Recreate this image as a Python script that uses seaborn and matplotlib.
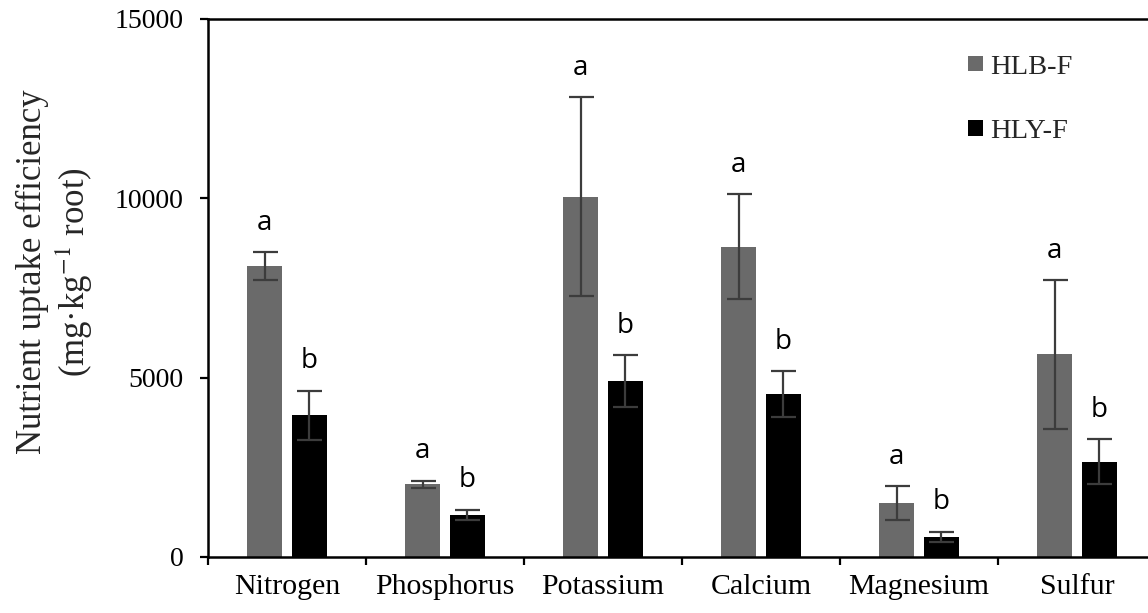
import matplotlib
matplotlib.use("Agg")
import matplotlib.pyplot as plt
import seaborn as sns
import pandas as pd
from matplotlib.ticker import FixedLocator

nutrients = ["Nitrogen", "Phosphorus", "Potassium", "Calcium", "Magnesium", "Sulfur"]
groups = ["HLB-F", "HLY-F"]
hlb = [8100, 2030, 10050, 8650, 1500, 5650]
hlb_err = [390, 100, 2770, 1470, 480, 2070]
hly = [3950, 1170, 4900, 4540, 570, 2660]
hly_err = [690, 150, 730, 640, 140, 630]
hlb_letters = ["a", "a", "a", "a", "a", "a"]
hly_letters = ["b", "b", "b", "b", "b", "b"]
yticks = [0, 5000, 10000, 15000]

sns.set_theme(style="white")
plt.rcParams["font.family"] = ["Liberation Serif", "DejaVu Serif"]
plt.rcParams["mathtext.fontset"] = "stix"

df = pd.DataFrame({
    "nutrient": nutrients * 2,
    "group": [groups[0]] * len(nutrients) + [groups[1]] * len(nutrients),
    "value": hlb + hly,
})

fig = plt.figure(figsize=(11.48, 6.13), dpi=100)
ax = fig.add_axes([208 / 1148, 1 - 557 / 613, 948 / 1148, (557 - 19) / 613])

sns.barplot(data=df, x="nutrient", y="value", hue="group", order=nutrients,
            hue_order=groups, palette=["#6a6a6a", "#000000"], saturation=1,
            width=0.56, gap=0.21, errorbar=None, ax=ax, linewidth=0)

errs = [hlb_err, hly_err]
vals = [hlb, hly]
letters = [hlb_letters, hly_letters]
bar_containers = list(ax.containers)
for k, cont in enumerate(bar_containers):
    xs = [p.get_x() + p.get_width() / 2 for p in cont.patches]
    ax.errorbar(xs, vals[k], yerr=errs[k], fmt="none", ecolor="#3c3c3c",
                elinewidth=1.6, capsize=9, capthick=1.6, zorder=3)
    for x, v, e, t in zip(xs, vals[k], errs[k], letters[k]):
        ax.annotate(t, xy=(x, v + e), xytext=(0, 16), textcoords="offset points",
                    ha="center", va="baseline", fontsize=20,
                    family=["Open Sans", "DejaVu Sans"], color="black")

ax.set_xlim(-0.5, 5.5)
ax.set_ylim(0, 15000)
ax.set_yticks(yticks)
ax.set_yticklabels([str(t) for t in yticks], fontsize=20)
ax.set_xticks(range(len(nutrients)))
ax.set_xticklabels(nutrients, fontsize=21.5)
ax.xaxis.set_minor_locator(FixedLocator([i - 0.5 for i in range(len(nutrients) + 1)]))
ax.tick_params(axis="x", which="major", length=0, pad=12, colors="black")
ax.tick_params(axis="x", which="minor", length=6, width=1.6, direction="out",
               bottom=True, color="black")
ax.tick_params(axis="y", which="major", length=6, width=1.6, direction="out",
               left=True, pad=11.5, colors="black")
ax.set_xlabel("")
ax.set_ylabel("Nutrient uptake efficiency\n(mg·kg$^{-1}$ root)", fontsize=25,
              linespacing=1.15)
ax.yaxis.set_label_coords((95 - 208) / 948, 0.53)

for s in ax.spines.values():
    s.set_visible(True)
    s.set_color("black")
    s.set_linewidth(1.8)

handles, labels = ax.get_legend_handles_labels()
ax.legend(handles, labels, loc="upper left", bbox_to_anchor=(0.79, 0.955),
          frameon=False, fontsize=20.5, handlelength=0.5, handleheight=0.45,
          handletextpad=0.25, labelspacing=1.39, borderaxespad=0)

fig.savefig("out.png", dpi=100)
